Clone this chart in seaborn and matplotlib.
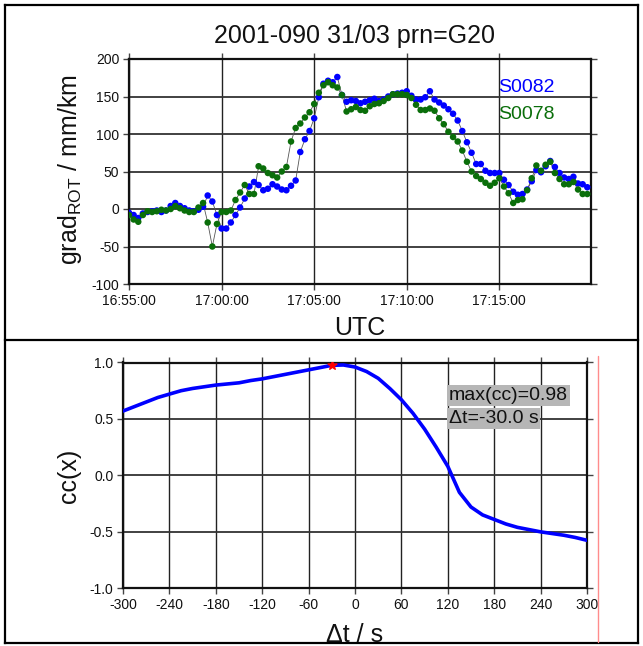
import numpy as np
import pandas as pd
import matplotlib
matplotlib.use("Agg")
import matplotlib.pyplot as plt
import matplotlib.dates as mdates
from matplotlib.lines import Line2D
import seaborn as sns

# ---------------- data ----------------
title = "2001-090 31/03 prn=G20"
start_time = "2001-03-31 16:55:00"
end_time = "2001-03-31 17:19:57"
sample_step = "15s"

# grad_ROT (mm/km), one value every 15 s from 16:55:00
s0082 = [-5, -8, -12, -6, -4, -3, -2, -4, -2, 4, 8, 4, 1, -2, -3, -1,
         3, 18, 10, -8, -26, -26, -18, -8, 2, 14, 30, 36, 32, 25, 27, 33,
         30, 26, 25, 31, 38, 76, 93, 104, 121, 149, 167, 171, 169, 176, 152, 143,
         145, 144, 141, 143, 145, 147, 144, 146, 150, 153, 154, 155, 157, 151, 146, 146,
         149, 157, 146, 142, 138, 133, 127, 118, 104, 89, 75, 60, 60, 51, 48, 48,
         48, 39, 32, 23, 19, 20, 26, 37, 52, 49, 57, 64, 56, 48, 42, 40,
         43, 34, 33, 29]
s0078 = [-8, -14, -17, -8, -3, -4, -3, -1, -2, 0, 4, 1, -2, -4, -4, 2,
         8, -18, -50, -20, -4, -4, -2, 12, 22, 32, 20, 20, 57, 54, 48, 45,
         42, 50, 56, 90, 108, 114, 122, 129, 140, 155, 165, 169, 165, 162, 152, 130,
         133, 136, 132, 131, 137, 140, 141, 144, 148, 153, 153, 153, 152, 148, 139, 132,
         132, 134, 131, 121, 113, 103, 96, 90, 78, 63, 50, 44, 40, 35, 31, 35,
         41, 30, 21, 8, 12, 13, 25, 41, 58, 51, 59, 63, 48, 40, 33, 33,
         36, 26, 20, 20]
stations = ["S0082", "S0078"]
station_colors = ["#0000ff", "#0a6e0a"]

# cross-correlation vs lag
lags = [-300, -285, -270, -255, -240, -225, -210, -195, -180, -165, -150, -135,
        -120, -105, -90, -75, -60, -45, -30, -15, 0, 15, 30, 45, 60, 75, 90,
        105, 120, 135, 150, 165, 180, 195, 210, 225, 240, 255, 270, 285, 300]
cc = [0.57, 0.61, 0.65, 0.69, 0.72, 0.75, 0.77, 0.785, 0.80, 0.81, 0.82, 0.84,
      0.855, 0.875, 0.895, 0.915, 0.935, 0.955, 0.975, 0.978, 0.96, 0.92, 0.86,
      0.77, 0.67, 0.55, 0.41, 0.25, 0.08, -0.15, -0.28, -0.35, -0.39, -0.43,
      -0.46, -0.48, -0.50, -0.515, -0.53, -0.55, -0.575]
peak_lag = -30.0
peak_cc = 0.98

top_yticks = [-100, -50, 0, 50, 100, 150, 200]
bot_xticks = [-300, -240, -180, -120, -60, 0, 60, 120, 180, 240, 300]
bot_yticks = [-1.0, -0.5, 0.0, 0.5, 1.0]

# ---------------- style ----------------
sns.set_theme(style="white", rc={
    "text.color": "#111111", "axes.labelcolor": "#111111",
    "xtick.color": "#111111", "ytick.color": "#111111",
})
plt.rcParams["font.family"] = ["Liberation Sans", "DejaVu Sans"]
plt.rcParams["axes.unicode_minus"] = False
plt.rcParams["mathtext.fontset"] = "custom"
plt.rcParams["mathtext.rm"] = "Liberation Sans"
plt.rcParams["mathtext.default"] = "rm"

W, H = 643, 646
fig = plt.figure(figsize=(W / 100, H / 100), dpi=100)


def rect(l, t, r, b):
    return [l / W, 1 - b / H, (r - l) / W, (b - t) / H]


ax1 = fig.add_axes(rect(129, 59, 591, 284))
ax2 = fig.add_axes(rect(123, 362.5, 587, 588.3))

# ---------------- top panel ----------------
times = pd.date_range(start_time, periods=len(s0082), freq=sample_step)
df = pd.DataFrame({"time": times, stations[0]: s0082, stations[1]: s0078})
long = df.melt("time", var_name="station", value_name="grad")
palette = dict(zip(stations, station_colors))

sns.lineplot(data=long, x="time", y="grad", units="station", estimator=None,
             color="#555555", lw=0.6, ax=ax1, legend=False, zorder=2)
sns.scatterplot(data=long, x="time", y="grad", hue="station", palette=palette,
                s=22, edgecolor="none", ax=ax1, legend=False, zorder=3)

ax1.set_xlim(pd.Timestamp(start_time), pd.Timestamp(end_time))
ax1.set_ylim(-100, 200)
ax1.set_yticks(top_yticks)
ax1.xaxis.set_major_locator(mdates.MinuteLocator(byminute=range(0, 60, 5)))
ax1.xaxis.set_major_formatter(mdates.DateFormatter("%H:%M:%S"))

ax1.set_xlabel("UTC", fontsize=18)
ax1.xaxis.set_label_coords(0.5, -0.142)
ax1.set_ylabel(r"grad$_{\mathrm{ROT}}$ / mm/km", fontsize=18)
ax1.yaxis.set_label_coords(-0.097, 0.51)

for name, col, yy in zip(stations, station_colors, [0.853, 0.733]):
    ax1.text(0.80, yy, name, color=col, fontsize=14, transform=ax1.transAxes,
             va="baseline", ha="left")

# ---------------- bottom panel ----------------
sns.lineplot(x=lags, y=cc, color="#0000ff", lw=2.6, ax=ax2, zorder=3)
ax2.scatter([peak_lag], [peak_cc], marker="*", color="red", s=45, zorder=4)
ax2.set_xlim(-300, 300)
ax2.set_ylim(-1, 1)
ax2.set_xticks(bot_xticks)
ax2.set_yticks(bot_yticks)
ax2.set_yticklabels([f"{v:.1f}" for v in bot_yticks])
ax2.set_xlabel("Δt / s", fontsize=18)
ax2.xaxis.set_label_coords(0.5, -0.152)
ax2.set_ylabel("cc(x)", fontsize=18)
ax2.yaxis.set_label_coords(-0.09, 0.5)

box = dict(boxstyle="square,pad=0.08", fc="#b6b6b6", ec="none")
ax2.text(0.7026, 0.834, f"max(cc)={peak_cc:.2f}", fontsize=14, transform=ax2.transAxes,
         va="baseline", ha="left", bbox=box, zorder=5)
ax2.text(0.7026, 0.732, f"Δt={peak_lag:.1f} s", fontsize=14, transform=ax2.transAxes,
         va="baseline", ha="left", bbox=box, zorder=5)

# ---------------- common axes styling ----------------
for ax in (ax1, ax2):
    ax.grid(True, axis="y", color="#333333", lw=1.3)
    ax.grid(True, axis="x", color="#222222", lw=1.0)
    ax.set_axisbelow(True)
    for sp in ax.spines.values():
        sp.set_color("#111111")
        sp.set_linewidth(1.6)
    ax.tick_params(direction="out", length=4, width=1, color="#444444",
                   top=True, right=True, bottom=True, left=True,
                   labelsize=10, pad=3)

fig.text(354 / W, 1 - 43.3 / H, title, fontsize=18, ha="center", va="baseline")

# ---------------- frame, divider and red marker line ----------------
def fline(x0, y0, x1, y1, **kw):
    fig.add_artist(Line2D([x0 / W, x1 / W], [1 - y0 / H, 1 - y1 / H],
                          transform=fig.transFigure, **kw))

k = dict(color="black", lw=1.6, solid_capstyle="projecting")
fline(5, 5, 638, 5, **k)
fline(5, 643, 638, 643, **k)
fline(5, 5, 5, 643, **k)
fline(638, 5, 638, 643, **k)
fline(5, 340, 638, 340, **k)
fline(598, 356, 598, 642, color="#ff8c8c", lw=1.0)

fig.savefig("out.png", dpi=100)
